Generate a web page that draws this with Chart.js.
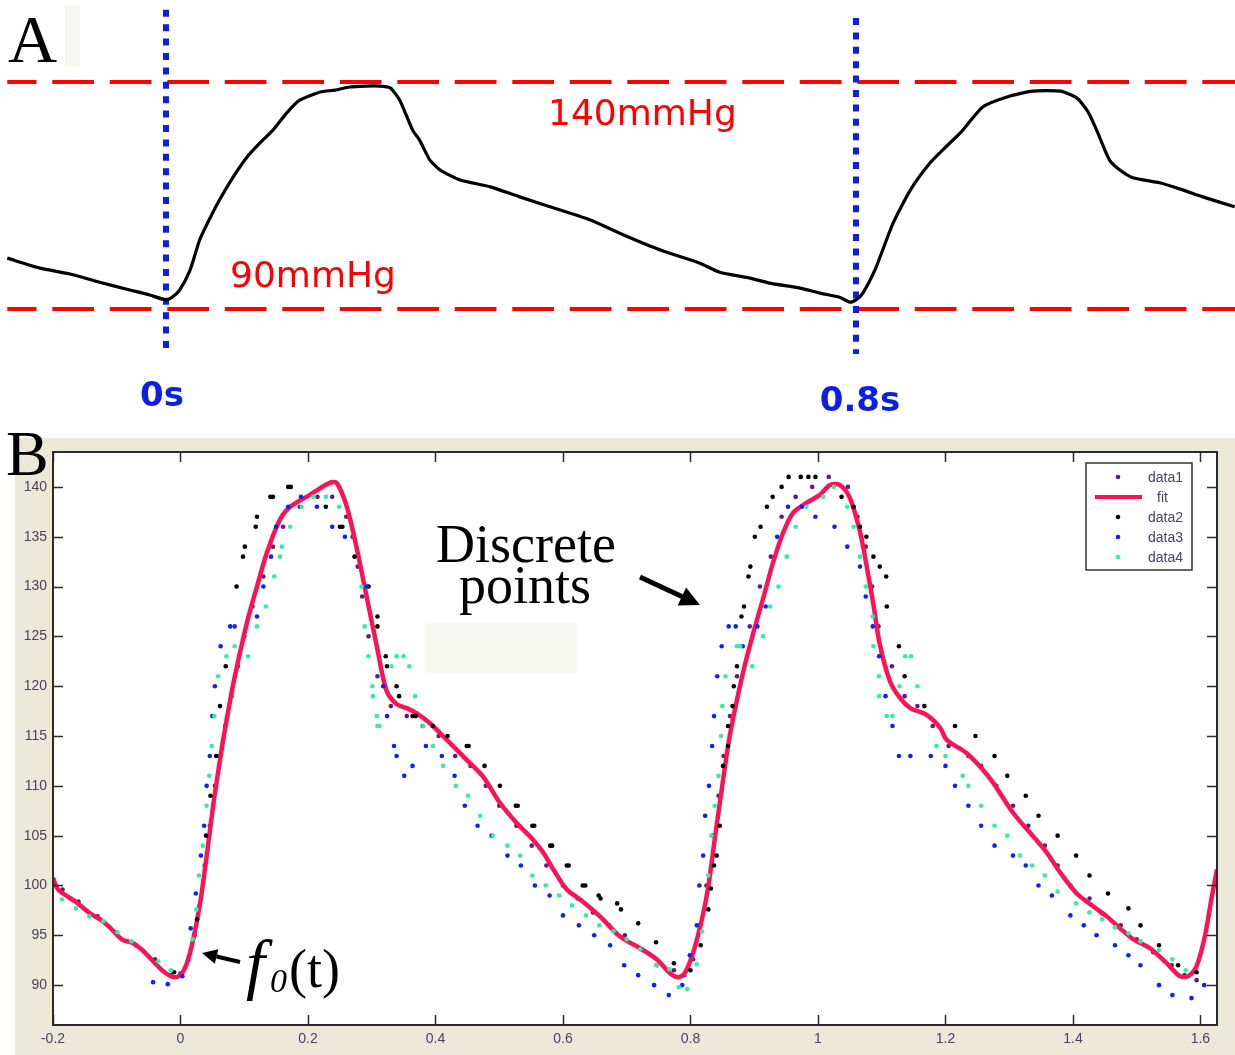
<!DOCTYPE html>
<html>
<head>
<meta charset="utf-8">
<script src="https://cdn.jsdelivr.net/npm/chart.js@4.4.1/dist/chart.umd.min.js"></script>
<style>
  html, body { margin: 0; padding: 0; background: #fff; }
  #wrap { position: relative; width: 1235px; height: 1055px; overflow: hidden; }
  #chartA { position: absolute; left: 0; top: 0; }
  #chartB { position: absolute; left: 0; top: 425px; }
</style>
</head>
<body>
<div id="wrap">
  <canvas id="chartA" width="1235" height="420"></canvas>
  <canvas id="chartB" width="1235" height="630"></canvas>
</div>
<script>
// ---- panel A: recorded pulse waveform [time s, pressure mmHg]
const wave = [
  [-0.184, 101.2], [-0.146, 99.0], [-0.111, 97.7], [-0.077, 95.9], [-0.042, 94.2], [-0.019, 93.1],
  [0.000, 92.0], [0.007, 92.6], [0.016, 94.2], [0.028, 98.6], [0.039, 105.2], [0.051, 110.0],
  [0.062, 114.0], [0.078, 119.1], [0.094, 123.5], [0.109, 126.6], [0.124, 129.4], [0.140, 133.2],
  [0.155, 136.0], [0.179, 137.8], [0.196, 138.2], [0.213, 138.9], [0.231, 139.1], [0.248, 139.1],
  [0.260, 138.7], [0.271, 136.0], [0.286, 129.4], [0.294, 127.2], [0.306, 122.8], [0.318, 120.6],
  [0.341, 118.4], [0.376, 116.9], [0.410, 114.7], [0.457, 111.8], [0.492, 109.6], [0.526, 106.7],
  [0.561, 103.9], [0.584, 102.3], [0.619, 100.1], [0.642, 98.1], [0.677, 96.8], [0.700, 95.7],
  [0.735, 94.6], [0.758, 93.5], [0.781, 92.6], [0.793, 91.5], [0.800, 92.0], [0.808, 93.5],
  [0.822, 98.6], [0.843, 108.9], [0.863, 116.2], [0.886, 122.2], [0.903, 125.5], [0.921, 128.8],
  [0.947, 134.5], [0.975, 136.7], [1.005, 138.0], [1.037, 138.0], [1.056, 136.5], [1.069, 133.4],
  [1.079, 129.4], [1.094, 122.8], [1.106, 120.6], [1.121, 118.9], [1.152, 117.8], [1.176, 116.4],
  [1.202, 114.7], [1.239, 112.5]
];
const refLevels = [140, 90];            // dashed reference pressures
const refLabels = ['140mmHg', '90mmHg'];
const markTimes = [0, 0.8];             // dotted time markers
const markTop = [155.9, 154.1];
const markBottom = [81.4, 80.1];
const markLabels = ['0s', '0.8s'];

// ---- panel B: sampled points and fitted curve [time s, pressure mmHg]
const data1 = [
  [-0.185, 99.6], [-0.16, 98.4], [-0.13, 96.9], [-0.1, 95.3], [-0.07, 94], [-0.04, 92.6], [-0.015, 91],
  [0.0, 91.2], [0.012, 92.5], [0.022, 95], [0.03, 98], [0.038, 102], [0.046, 106], [0.054, 110],
  [0.062, 113], [0.07, 116], [0.08, 119], [0.09, 122], [0.1, 125], [0.113, 128], [0.13, 131],
  [0.145, 134], [0.161, 136], [0.187, 138], [0.215, 139], [0.238, 139], [0.26, 137], [0.27, 135],
  [0.278, 132], [0.285, 129], [0.295, 125], [0.309, 121], [0.33, 118], [0.355, 117], [0.38, 116],
  [0.405, 115], [0.431, 113], [0.455, 112], [0.479, 110], [0.5, 108], [0.527, 106], [0.551, 104],
  [0.574, 102], [0.6, 100], [0.623, 98.7], [0.647, 97.3], [0.672, 96], [0.697, 95], [0.722, 93.6],
  [0.747, 92], [0.774, 91.5], [0.79, 91], [0.804, 92.6], [0.815, 96], [0.825, 100], [0.835, 105],
  [0.844, 109], [0.852, 113], [0.862, 117], [0.873, 121], [0.893, 126], [0.909, 130], [0.926, 133],
  [0.943, 137], [0.965, 139], [0.991, 140], [1.017, 141], [1.047, 140], [1.062, 137], [1.075, 134],
  [1.085, 130], [1.095, 126], [1.116, 122], [1.136, 119], [1.156, 118], [1.18, 116], [1.205, 114],
  [1.236, 113], [1.256, 112], [1.28, 110], [1.306, 108], [1.33, 106], [1.356, 104], [1.376, 102],
  [1.396, 100], [1.426, 98.7], [1.446, 97.2], [1.475, 96], [1.5, 94.6], [1.526, 93.3], [1.555, 92],
  [1.575, 91], [1.594, 90.5]
];
const fit = [
  [-0.2, 100.75], [-0.192, 99.6], [-0.163, 98.3], [-0.142, 97.2], [-0.126, 96.6], [-0.111, 95.8],
  [-0.092, 94.6], [-0.074, 94.2], [-0.058, 93.4], [-0.043, 92.4], [-0.027, 91.4], [-0.011, 90.8],
  [0, 91.0], [0.01, 92.2], [0.02, 94.6], [0.031, 98.3], [0.041, 102.9], [0.051, 107.9], [0.062, 112.6],
  [0.068, 115], [0.083, 120.3], [0.104, 126.3], [0.12, 130.0], [0.135, 133.3], [0.156, 136.7],
  [0.172, 138.0], [0.203, 139.2], [0.234, 140.4], [0.245, 140.4], [0.261, 138.0], [0.276, 134.0],
  [0.292, 129.0], [0.308, 124.0], [0.323, 119.6], [0.339, 118.2], [0.355, 117.8], [0.37, 117.3],
  [0.391, 116.3], [0.418, 114.6], [0.449, 112.6], [0.475, 110.9], [0.501, 108.3], [0.527, 106.3],
  [0.553, 104.6], [0.569, 103.3], [0.585, 101.6], [0.606, 99.6], [0.627, 98.6], [0.658, 96.9],
  [0.689, 94.9], [0.721, 93.7], [0.747, 92.6], [0.768, 91.2], [0.781, 90.8], [0.791, 91.2],
  [0.804, 93.2], [0.818, 96.6], [0.828, 99.9], [0.838, 104.6], [0.849, 109.6], [0.859, 114.0],
  [0.867, 116.8], [0.883, 121.5], [0.898, 125.2], [0.914, 128.8], [0.93, 132.5], [0.946, 135.5],
  [0.961, 137.4], [0.982, 138.4], [1.003, 139.2], [1.019, 140.2], [1.034, 140.2], [1.05, 138.9],
  [1.066, 135.5], [1.076, 132.2], [1.087, 128.2], [1.097, 124.2], [1.113, 120.5], [1.129, 118.8],
  [1.145, 117.8], [1.171, 117.1], [1.192, 115.8], [1.202, 114.6], [1.233, 113.3], [1.259, 111.6],
  [1.275, 110.3], [1.306, 107.3], [1.338, 104.9], [1.359, 103.3], [1.38, 101.3], [1.406, 99.2],
  [1.432, 97.9], [1.453, 96.9], [1.474, 95.7], [1.495, 94.6], [1.521, 93.7], [1.547, 92.2],
  [1.568, 90.9], [1.581, 90.9], [1.594, 91.9], [1.607, 94.9], [1.618, 98.9], [1.626, 101.6]
];
const data2 = [
  [-0.01, 91.3], [0.026, 96.6], [0.04, 105], [0.047, 109], [0.056, 113], [0.062, 118], [0.071, 122],
  [0.088, 130], [0.098, 133], [0.101, 134], [0.118, 136], [0.12, 137], [0.141, 139], [0.145, 139],
  [0.169, 140], [0.173, 140], [0.228, 138], [0.25, 136], [0.254, 136], [0.273, 133], [0.295, 130],
  [0.309, 127], [0.309, 126], [0.322, 123], [0.324, 122], [0.339, 120], [0.343, 119], [0.364, 117],
  [0.369, 117], [0.396, 116], [0.419, 115], [0.449, 114], [0.452, 114], [0.477, 112], [0.501, 110],
  [0.526, 108], [0.529, 108], [0.552, 106], [0.555, 106], [0.58, 104], [0.583, 104], [0.606, 102],
  [0.609, 102], [0.631, 100], [0.635, 100], [0.656, 99], [0.659, 98.7], [0.685, 98.2], [0.691, 97.6],
  [0.718, 96.2], [0.746, 94.3], [0.774, 92.2], [0.8, 91.5], [0.816, 94], [0.828, 97.6], [0.832, 99.7],
  [0.837, 102], [0.841, 103], [0.846, 106], [0.851, 112], [0.859, 114], [0.859, 116], [0.866, 118],
  [0.868, 120], [0.873, 122], [0.88, 127], [0.884, 128], [0.891, 131], [0.894, 132], [0.901, 135],
  [0.91, 136], [0.92, 138], [0.929, 139], [0.943, 140], [0.954, 141], [0.973, 141], [0.985, 141],
  [0.996, 141], [1.037, 139], [1.056, 138], [1.066, 136], [1.076, 135], [1.087, 133], [1.097, 132],
  [1.107, 131], [1.108, 128], [1.127, 124], [1.136, 121], [1.167, 118], [1.215, 116], [1.247, 115],
  [1.277, 113], [1.297, 111], [1.326, 109], [1.346, 107], [1.376, 105], [1.405, 103], [1.426, 101],
  [1.455, 99.2], [1.487, 97.7], [1.506, 96], [1.535, 94], [1.565, 92], [1.594, 91.3]
];
const data3 = [
  [-0.043, 90.3], [-0.02, 90.1], [0.003, 90.9], [0.016, 95.7], [0.024, 99.2], [0.032, 103], [0.037, 106],
  [0.041, 110], [0.046, 113], [0.05, 117], [0.054, 120], [0.063, 124], [0.078, 126], [0.085, 126],
  [0.12, 127], [0.13, 130], [0.142, 133], [0.15, 136], [0.169, 138], [0.189, 139], [0.214, 138],
  [0.238, 136], [0.258, 135], [0.292, 130], [0.318, 120], [0.324, 117], [0.335, 114], [0.339, 113],
  [0.351, 111], [0.364, 112], [0.385, 114], [0.41, 113], [0.43, 111], [0.446, 108], [0.466, 106],
  [0.488, 105], [0.513, 103], [0.534, 102], [0.556, 100], [0.579, 99], [0.6, 97], [0.625, 96],
  [0.649, 95], [0.674, 94], [0.696, 92], [0.718, 91], [0.743, 90], [0.766, 89], [0.787, 90],
  [0.799, 93], [0.81, 96], [0.814, 100], [0.82, 103], [0.823, 107], [0.829, 110], [0.834, 114],
  [0.837, 117], [0.842, 121], [0.849, 124], [0.86, 126], [0.871, 126], [0.882, 124], [0.905, 126],
  [0.918, 128], [0.936, 135], [0.953, 138], [0.975, 138], [0.996, 137], [1.026, 136], [1.046, 134],
  [1.066, 132], [1.075, 129], [1.086, 126], [1.096, 123], [1.106, 119], [1.117, 116], [1.127, 113],
  [1.145, 113], [1.177, 113], [1.2, 112], [1.215, 110], [1.236, 108], [1.256, 106], [1.277, 104],
  [1.306, 103], [1.326, 102], [1.346, 100], [1.367, 99], [1.396, 97], [1.417, 96], [1.437, 95],
  [1.466, 94], [1.487, 93], [1.506, 92], [1.535, 90], [1.556, 89], [1.586, 88.7], [1.606, 90]
];
const data4 = [
  [-0.186, 98.6], [-0.164, 97.7], [-0.143, 96.9], [-0.121, 96.4], [-0.099, 95.3], [-0.077, 94.4],
  [-0.035, 92.4], [-0.015, 91.5], [0.019, 94.6], [0.025, 97.6], [0.029, 101], [0.035, 104], [0.041, 108],
  [0.045, 111], [0.049, 114], [0.053, 117], [0.059, 121], [0.072, 123], [0.085, 124], [0.106, 123],
  [0.12, 126], [0.134, 128], [0.147, 131], [0.156, 133], [0.159, 134], [0.172, 136], [0.19, 138],
  [0.208, 139], [0.228, 139], [0.249, 138], [0.284, 130], [0.289, 126], [0.295, 123], [0.301, 120],
  [0.302, 119], [0.308, 117], [0.309, 116], [0.312, 116], [0.331, 122], [0.339, 123], [0.35, 123],
  [0.359, 122], [0.368, 119], [0.381, 116], [0.396, 114], [0.412, 112], [0.432, 110], [0.451, 109],
  [0.47, 107], [0.49, 105], [0.513, 104], [0.533, 103], [0.552, 101], [0.573, 100], [0.594, 99],
  [0.614, 98], [0.636, 97], [0.657, 96], [0.679, 95.4], [0.7, 94.6], [0.721, 93.6], [0.747, 92],
  [0.767, 91.6], [0.782, 89.8], [0.795, 89.6], [0.81, 92.1], [0.818, 95.4], [0.828, 101], [0.833, 105],
  [0.838, 108], [0.844, 111], [0.848, 115], [0.85, 118], [0.855, 121], [0.873, 124], [0.878, 124],
  [0.897, 122], [0.914, 125], [0.925, 128], [0.938, 130], [0.951, 133], [0.965, 136], [0.982, 138],
  [1.008, 139], [1.025, 140], [1.046, 138], [1.056, 136], [1.066, 133], [1.075, 130], [1.086, 127],
  [1.087, 124], [1.096, 121], [1.096, 119], [1.108, 117], [1.117, 117], [1.128, 120], [1.137, 123],
  [1.146, 123], [1.156, 120], [1.186, 114], [1.2, 113], [1.227, 111], [1.236, 110], [1.256, 108],
  [1.277, 106], [1.297, 105], [1.317, 103], [1.336, 102], [1.356, 101], [1.376, 99.4], [1.405, 98.2],
  [1.426, 97.3], [1.446, 96.6], [1.466, 95.8], [1.487, 95.2], [1.506, 94.4], [1.535, 93.5],
  [1.556, 92.6], [1.577, 91.5]
];
const seriesNames = ['data1', 'fit', 'data2', 'data3', 'data4'];
const seriesColors = ['#5e1d78', '#fa1456', '#000000', '#0a22ff', '#2ef0a0'];

const toXY = pts => pts.map(([x, y]) => ({ x, y }));
const TICK_COLOR = '#4b4063';

// ---------- panel A
const panelAText = {
  id: 'panelAText',
  afterDraw(chart) {
    const { ctx, scales: { x, y } } = chart;
    ctx.save();
    ctx.fillStyle = '#f7f7ef';
    ctx.fillRect(65, 5, 15, 62);
    ctx.fillStyle = '#000';
    ctx.font = '68px "Liberation Serif"';
    ctx.textAlign = 'left';
    ctx.textBaseline = 'alphabetic';
    ctx.fillText('A', 8, 62);

    ctx.fillStyle = '#ff0000';
    ctx.font = '36px "DejaVu Sans"';
    ctx.fillText(refLabels[0], 548, y.getPixelForValue(refLevels[0]) + 43);
    ctx.fillText(refLabels[1], 230, y.getPixelForValue(refLevels[1]) - 22);

    ctx.fillStyle = '#0d1fe6';
    ctx.font = 'bold 34px "DejaVu Sans"';
    ctx.textAlign = 'center';
    ctx.fillText(markLabels[0], x.getPixelForValue(markTimes[0]) - 4, 406);
    ctx.fillText(markLabels[1], x.getPixelForValue(markTimes[1]) + 4, 411);
    ctx.restore();
  }
};

const datasetsA = [
  { data: toXY(wave), borderColor: '#000', borderWidth: 3.2, pointRadius: 0, tension: 0.2, order: 0 }
];
markTimes.forEach((t, i) => datasetsA.push({
  data: [{ x: t, y: markTop[i] }, { x: t, y: markBottom[i] }],
  borderColor: '#0d1fe6', borderWidth: 6, borderDash: [7, 7.4], borderCapStyle: 'butt',
  pointRadius: 0, order: 1
}));
refLevels.forEach(v => datasetsA.push({
  data: [{ x: -0.184, y: v }, { x: 1.24, y: v }],
  borderColor: '#ff0000', borderWidth: 4, borderDash: [41.7, 15.8], borderDashOffset: 12.5,
  borderCapStyle: 'butt', pointRadius: 0, order: 2
}));

new Chart(document.getElementById('chartA'), {
  type: 'line',
  data: { datasets: datasetsA },
  options: {
    responsive: false, animation: false, events: [],
    layout: { padding: 0 },
    plugins: { legend: { display: false }, tooltip: { enabled: false } },
    scales: {
      x: { type: 'linear', display: false, min: -0.19246, max: 1.23942 },
      y: { display: false, min: 65.55, max: 158.06 }
    }
  },
  plugins: [panelAText]
});

// ---------- panel B
function arrow(ctx, x1, y1, x2, y2, w, head) {
  const ang = Math.atan2(y2 - y1, x2 - x1);
  const bx = x2 - head * Math.cos(ang), by = y2 - head * Math.sin(ang);
  ctx.lineWidth = w;
  ctx.beginPath(); ctx.moveTo(x1, y1); ctx.lineTo(bx, by); ctx.stroke();
  ctx.beginPath();
  ctx.moveTo(x2, y2);
  ctx.lineTo(bx + head * 0.5 * Math.sin(ang), by - head * 0.5 * Math.cos(ang));
  ctx.lineTo(bx - head * 0.5 * Math.sin(ang), by + head * 0.5 * Math.cos(ang));
  ctx.closePath(); ctx.fill();
}

const matlabFrame = {
  id: 'matlabFrame',
  beforeDraw(chart) {
    const { ctx, chartArea: a } = chart;
    ctx.save();
    ctx.fillStyle = '#ece9d8';
    ctx.fillRect(15, 13, chart.width - 15, chart.height - 13);
    ctx.fillStyle = '#fff';
    ctx.fillRect(a.left, a.top, a.right - a.left, a.bottom - a.top);
    ctx.fillStyle = '#f9f9f3';
    ctx.fillRect(425, 198, 152, 50);
    ctx.restore();
  },
  afterDraw(chart) {
    const { ctx, chartArea: a, scales: { x, y } } = chart;
    ctx.save();
    ctx.strokeStyle = '#2b2b2b';
    ctx.lineWidth = 1.5;
    ctx.beginPath();
    x.ticks.forEach(t => {
      const px = Math.round(x.getPixelForValue(t.value)) + 0.5;
      ctx.moveTo(px, a.bottom); ctx.lineTo(px, a.bottom - 10);
      ctx.moveTo(px, a.top); ctx.lineTo(px, a.top + 10);
    });
    y.ticks.forEach(t => {
      const py = Math.round(y.getPixelForValue(t.value)) + 0.5;
      ctx.moveTo(a.left, py); ctx.lineTo(a.left + 10, py);
      ctx.moveTo(a.right, py); ctx.lineTo(a.right - 10, py);
    });
    ctx.stroke();
    ctx.lineWidth = 2;
    ctx.strokeRect(a.left, a.top, a.right - a.left, a.bottom - a.top);

    // legend
    const lx = 1086, ly = 38, lw = 106, lh = 107;
    ctx.fillStyle = '#fff';
    ctx.fillRect(lx, ly, lw, lh);
    ctx.lineWidth = 1.5;
    ctx.strokeStyle = '#333';
    ctx.strokeRect(lx, ly, lw, lh);
    ctx.font = '14px "Liberation Sans"';
    ctx.textBaseline = 'middle';
    ctx.textAlign = 'left';
    seriesNames.forEach((name, i) => {
      const ry = 52 + i * 20;
      if (name === 'fit') {
        ctx.strokeStyle = seriesColors[i];
        ctx.lineWidth = 4;
        ctx.beginPath(); ctx.moveTo(1095, ry); ctx.lineTo(1142, ry); ctx.stroke();
      } else {
        ctx.fillStyle = seriesColors[i];
        ctx.beginPath(); ctx.arc(1118, ry, 2.3, 0, Math.PI * 2); ctx.fill();
      }
      ctx.fillStyle = TICK_COLOR;
      ctx.fillText(name, name === 'fit' ? 1157 : 1148, ry + 1);
    });

    // annotations
    ctx.fillStyle = '#000';
    ctx.strokeStyle = '#000';
    ctx.textBaseline = 'alphabetic';
    ctx.font = '64px "Liberation Serif"';
    ctx.fillText('B', 6, 50);
    ctx.font = '54px "Liberation Serif"';
    ctx.textAlign = 'center';
    ctx.fillText('Discrete', 526, 137);
    ctx.fillText('points', 525, 178);
    arrow(ctx, 640, 152, 700, 180, 5, 20);
    arrow(ctx, 240, 537, 202, 528, 4, 15);
    ctx.textAlign = 'left';
    ctx.font = 'italic 68px "Liberation Serif"';
    ctx.fillText('f', 246, 562);
    ctx.font = 'italic 34px "Liberation Serif"';
    ctx.fillText('0', 270, 567);
    ctx.font = '54px "Liberation Serif"';
    ctx.fillText('(t)', 289, 562);
    ctx.restore();
  }
};

const dot = (name, data, color, order) => ({
  label: name, data: toXY(data), backgroundColor: color, borderColor: color,
  pointRadius: 2.3, pointBorderWidth: 0, showLine: false, order
});

new Chart(document.getElementById('chartB'), {
  type: 'scatter',
  data: {
    datasets: [
      dot('data1', data1, seriesColors[0], 4),
      { label: 'fit', data: toXY(fit), showLine: true, borderColor: seriesColors[1], borderWidth: 4.5,
        pointRadius: 0, tension: 0.3, borderJoinStyle: 'round', order: 3 },
      dot('data2', data2, seriesColors[2], 2),
      dot('data3', data3, seriesColors[3], 1),
      dot('data4', data4, seriesColors[4], 0)
    ]
  },
  options: {
    responsive: false, animation: false, events: [],
    layout: { padding: { left: 0, top: 27, right: 18, bottom: 0 } },
    plugins: { legend: { display: false }, tooltip: { enabled: false } },
    scales: {
      x: {
        type: 'linear', min: -0.2, max: 1.626,
        afterFit(s) { s.height = 30; },
        grid: { display: false, drawTicks: false }, border: { display: false },
        ticks: {
          stepSize: 0.2, includeBounds: false, autoSkip: false, maxRotation: 0, padding: 6,
          color: TICK_COLOR, font: { family: 'Liberation Sans', size: 14 },
          callback: v => String(+v.toFixed(1))
        }
      },
      y: {
        min: 86, max: 143.5,
        afterFit(s) { s.width = 53; },
        grid: { display: false, drawTicks: false }, border: { display: false },
        ticks: {
          stepSize: 5, includeBounds: false, padding: 6,
          color: TICK_COLOR, font: { family: 'Liberation Sans', size: 14 }
        }
      }
    }
  },
  plugins: [matlabFrame]
});
</script>
</body>
</html>
